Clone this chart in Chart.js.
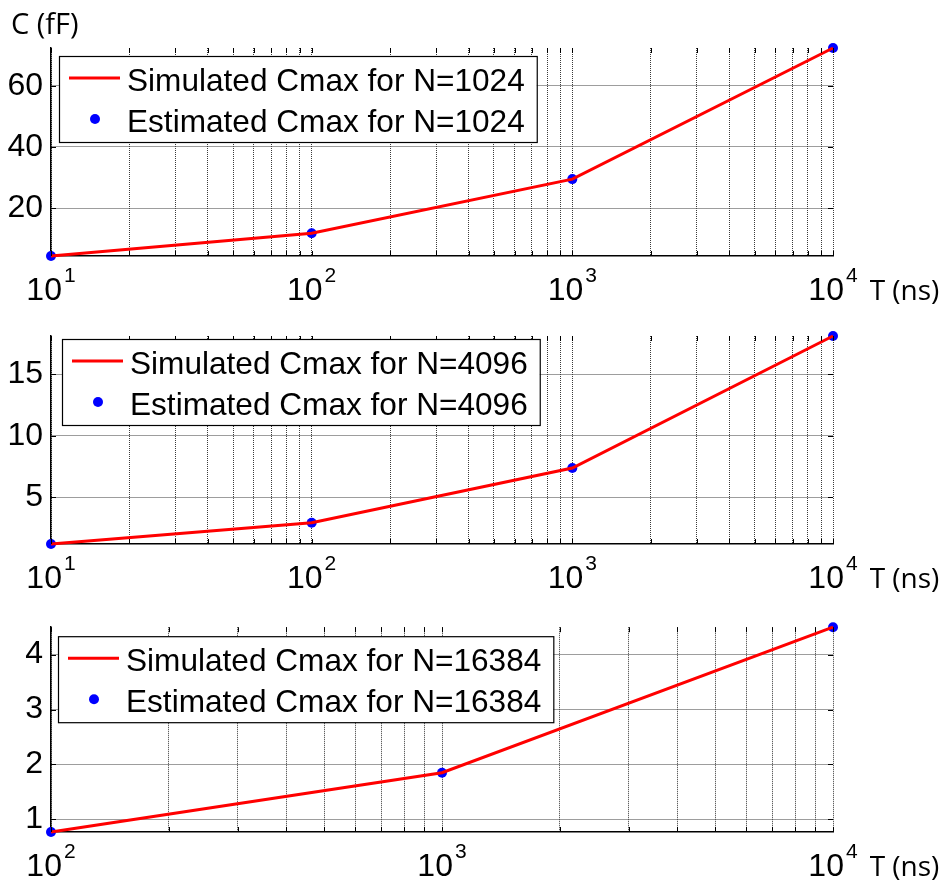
<!DOCTYPE html>
<html>
<head>
<meta charset="utf-8">
<script src="https://cdn.jsdelivr.net/npm/chart.js@4.4.1/dist/chart.umd.min.js"></script>
<style>
  html, body { margin: 0; padding: 0; background: #fff; }
  #wrap { position: relative; width: 943px; height: 885px; overflow: hidden; }
  canvas { position: absolute; left: 0; }
</style>
</head>
<body>
<div id="wrap">
  <canvas id="c1" width="943" height="310" style="top:0px"></canvas>
  <canvas id="c2" width="943" height="310" style="top:300px"></canvas>
  <canvas id="c3" width="943" height="285" style="top:600px"></canvas>
</div>
<script>
// --- data ---
const tNs1 = [10, 100, 1000, 10000];
const cSim1 = [4.4, 11.8, 29.5, 72.3];
const cEst1 = [4.4, 11.8, 29.5, 72.3];
const yTicks1 = [20, 40, 60];

const tNs2 = [10, 100, 1000, 10000];
const cSim2 = [1.2, 2.93, 7.37, 18.1];
const cEst2 = [1.2, 2.93, 7.37, 18.1];
const yTicks2 = [5, 10, 15];

const tNs3 = [100, 1000, 10000];
const cSim3 = [0.77, 1.85, 4.5];
const cEst3 = [0.77, 1.85, 4.5];
const yTicks3 = [1, 2, 3, 4];

const xGrid1 = [10,20,30,40,50,60,70,80,90,100,200,300,400,500,600,700,800,900,1000,2000,3000,4000,5000,6000,7000,8000,9000,10000];
const xGrid3 = [100,200,300,400,500,600,700,800,900,1000,2000,3000,4000,5000,6000,7000,8000,9000,10000];
const xDecades1 = [10, 100, 1000, 10000];
const xDecades3 = [100, 1000, 10000];

const ARIAL = '"Liberation Sans", Arial, sans-serif';
const CALIBRI = '"Open Sans", "Noto Sans", sans-serif';

// ticks inside the box, custom legend box, 10^n labels
const decor = {
  id: 'decor',
  afterDraw(chart, args, o){
    const ctx = chart.ctx;
    const a = chart.chartArea;
    const xs = chart.scales.x, ys = chart.scales.y;
    ctx.save();
    // inner tick marks
    ctx.strokeStyle = '#000';
    ctx.lineWidth = 1;
    ctx.beginPath();
    xs.ticks.forEach(t => {
      const px = Math.round(xs.getPixelForValue(t.value)) + 0.5;
      ctx.moveTo(px, a.bottom); ctx.lineTo(px, a.bottom - 5);
      ctx.moveTo(px, a.top); ctx.lineTo(px, a.top + 5);
    });
    ys.ticks.forEach(t => {
      const py = Math.round(ys.getPixelForValue(t.value)) + 0.5;
      ctx.moveTo(a.left, py); ctx.lineTo(a.left + 5, py);
      ctx.moveTo(a.right, py); ctx.lineTo(a.right - 5, py);
    });
    ctx.stroke();

    // legend
    ctx.font = '31.6px ' + ARIAL;
    const tw = Math.max(...o.texts.map(s => ctx.measureText(s).width));
    const bx = a.left + o.lx, by = a.top + o.ly;
    const bw = 68 + tw + 12, bh = 86;
    ctx.fillStyle = '#fff';
    ctx.fillRect(bx, by, bw, bh);
    ctx.strokeStyle = '#000';
    ctx.lineWidth = 1.2;
    ctx.strokeRect(bx + 0.5, by + 0.5, bw, bh);
    ctx.strokeStyle = '#ff0000';
    ctx.lineWidth = 3;
    ctx.beginPath();
    ctx.moveTo(bx + 10, by + 22); ctx.lineTo(bx + 61, by + 22);
    ctx.stroke();
    ctx.fillStyle = '#0000ff';
    ctx.beginPath();
    ctx.arc(bx + 36, by + 63, 5, 0, Math.PI * 2);
    ctx.fill();
    ctx.fillStyle = '#000';
    ctx.textBaseline = 'alphabetic';
    ctx.textAlign = 'left';
    ctx.fillText(o.texts[0], bx + 68, by + 35);
    ctx.fillText(o.texts[1], bx + 68, by + 76);

    // x decade labels 10^n
    const base = a.bottom + 44;
    o.decades.forEach((v, i) => {
      const exp = String(Math.round(Math.log10(v)));
      ctx.font = '32px ' + ARIAL;
      const w1 = ctx.measureText('10').width;
      ctx.font = '21px ' + ARIAL;
      const w2 = ctx.measureText(exp).width;
      const px = xs.getPixelForValue(v);
      const x0 = px - (w1 + 2 + w2) / 2;
      ctx.font = '32px ' + ARIAL;
      ctx.fillText('10', x0, base);
      ctx.font = '21px ' + ARIAL;
      ctx.fillText(exp, x0 + w1 + 2, base - 18);
      if (i === o.decades.length - 1) {
        ctx.font = '28px ' + CALIBRI;
        ctx.fillText('T (ns)', x0 + w1 + 2 + w2 + 12, base);
      }
    });

    if (o.yTitle) {
      ctx.font = '29px ' + CALIBRI;
      ctx.fillText(o.yTitle, 11, 34);
    }
    ctx.restore();
  }
};

function makeChart(id, tVals, simVals, estVals, yMin, yMax, yTicks, xMin, xGrid, decades, nLabel, padTop, padBottom, lx, ly, yTitle){
  const sim = tVals.map((t, i) => ({x: t, y: simVals[i]}));
  const est = tVals.map((t, i) => ({x: t, y: estVals[i]}));
  return new Chart(document.getElementById(id).getContext('2d'), {
    type: 'line',
    data: { datasets: [
      { label: 'Simulated Cmax for N=' + nLabel, data: sim, borderColor: '#ff0000', borderWidth: 3,
        pointRadius: 0, tension: 0, fill: false, clip: false },
      { label: 'Estimated Cmax for N=' + nLabel, data: est, showLine: false, pointRadius: 5,
        pointBackgroundColor: '#0000ff', pointBorderColor: '#0000ff', pointBorderWidth: 0, clip: false }
    ]},
    options: {
      responsive: false,
      animation: false,
      events: [],
      layout: { padding: { left: 0, right: 110, top: padTop, bottom: padBottom } },
      plugins: {
        legend: { display: false },
        tooltip: { enabled: false },
        decor: { texts: ['Simulated Cmax for N=' + nLabel, 'Estimated Cmax for N=' + nLabel],
                 decades: decades, lx: lx, ly: ly, yTitle: yTitle }
      },
      scales: {
        x: {
          type: 'logarithmic', min: xMin, max: 10000,
          afterBuildTicks: s => { s.ticks = xGrid.map(v => ({value: v})); },
          afterFit: s => { s.height = 0; },
          ticks: { display: false },
          grid: { color: '#3a3a3a', lineWidth: 1, drawTicks: false },
          border: { display: true, color: '#000', width: 1.5, dash: [1, 1] }
        },
        y: {
          min: yMin, max: yMax,
          afterBuildTicks: s => { s.ticks = yTicks.map(v => ({value: v})); },
          afterFit: s => { s.width = 51; },
          ticks: { color: '#000', padding: 8, font: { family: ARIAL, size: 32 } },
          grid: { color: '#3a3a3a', lineWidth: 1, drawTicks: false },
          border: { display: true, color: '#000', width: 1.5, dash: [1, 1] }
        }
      }
    },
    plugins: [decor]
  });
}

makeChart('c1', tNs1, cSim1, cEst1, 4.4, 72.3, yTicks1, 10, xGrid1, xDecades1, '1024', 48, 54, 8, 8, 'C (fF)');
makeChart('c2', tNs2, cSim2, cEst2, 1.2, 18.1, yTicks2, 10, xGrid1, xDecades1, '4096', 36, 66, 11, 3, null);
makeChart('c3', tNs3, cSim3, cEst3, 0.77, 4.5, yTicks3, 100, xGrid3, xDecades3, '16384', 25, 53, 7, 9, null);
</script>
</body>
</html>
